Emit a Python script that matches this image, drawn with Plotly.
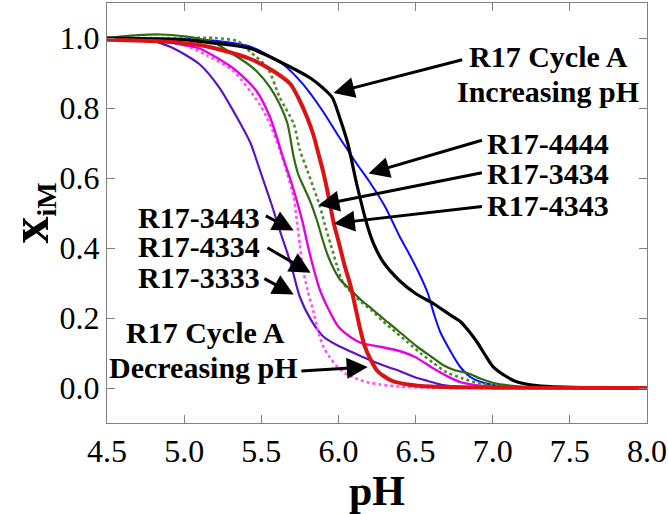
import plotly.graph_objects as go

# ---------------- data ----------------
black_x = [4.5, 5.0, 5.1, 5.43, 5.64, 5.82, 5.9, 5.96, 6.01, 6.06, 6.12, 6.19, 6.23, 6.29, 6.4, 6.5, 6.62, 6.72, 6.79, 6.85, 6.9, 6.95, 7.0, 7.08, 7.16, 7.3, 7.5, 8.0]
black_y = [1.0, 0.995, 0.99, 0.97, 0.928, 0.885, 0.857, 0.83, 0.77, 0.70, 0.58, 0.46, 0.41, 0.36, 0.305, 0.27, 0.24, 0.21, 0.19, 0.16, 0.13, 0.095, 0.062, 0.035, 0.017, 0.006, 0.002, 0.0]

blue_x = [4.5, 5.0, 5.2, 5.43, 5.64, 5.77, 5.9, 6.0, 6.06, 6.12, 6.2, 6.3, 6.4, 6.45, 6.52, 6.58, 6.62, 6.66, 6.72, 6.79, 6.86, 6.94, 7.05, 7.2, 8.0]
blue_y = [1.0, 0.998, 0.992, 0.975, 0.925, 0.868, 0.79, 0.72, 0.68, 0.64, 0.59, 0.52, 0.43, 0.39, 0.33, 0.27, 0.21, 0.16, 0.11, 0.06, 0.03, 0.015, 0.005, 0.001, 0.0]

red_x = [4.5, 4.86, 5.1, 5.23, 5.43, 5.58, 5.69, 5.75, 5.8, 5.84, 5.87, 5.9, 5.93, 5.97, 6.0, 6.04, 6.08, 6.11, 6.14, 6.17, 6.21, 6.25, 6.29, 6.35, 6.45, 6.6, 7.0, 8.0]
red_y = [0.995, 0.99, 0.98, 0.967, 0.94, 0.905, 0.868, 0.82, 0.77, 0.72, 0.67, 0.62, 0.56, 0.47, 0.42, 0.35, 0.29, 0.23, 0.17, 0.12, 0.08, 0.05, 0.035, 0.02, 0.01, 0.004, 0.001, 0.0]

green_x = [4.5, 4.7, 4.85, 5.0, 5.1, 5.2, 5.32, 5.4, 5.47, 5.56, 5.62, 5.67, 5.71, 5.74, 5.78, 5.82, 5.86, 5.9, 5.93, 5.97, 6.01, 6.08, 6.15, 6.22, 6.3, 6.37, 6.45, 6.52, 6.6, 6.68, 6.76, 6.84, 6.92, 7.0, 7.16, 7.4, 8.0]
green_y = [1.0, 1.008, 1.01, 1.005, 0.998, 0.985, 0.953, 0.93, 0.905, 0.857, 0.81, 0.755, 0.66, 0.61, 0.57, 0.53, 0.48, 0.42, 0.38, 0.34, 0.31, 0.28, 0.25, 0.225, 0.195, 0.17, 0.14, 0.115, 0.09, 0.065, 0.05, 0.042, 0.027, 0.015, 0.005, 0.001, 0.0]

gdot_x = [4.5, 5.0, 5.2, 5.35, 5.43, 5.54, 5.62, 5.71, 5.75, 5.8, 5.84, 5.88, 5.91, 5.95, 5.99, 6.03, 6.09, 6.15, 6.22, 6.29, 6.37, 6.45, 6.53, 6.62, 6.7, 6.8, 6.9, 7.0, 7.2, 8.0]
gdot_y = [1.0, 1.0, 1.0, 0.99, 0.96, 0.915, 0.83, 0.755, 0.68, 0.62, 0.57, 0.52, 0.47, 0.41, 0.35, 0.3, 0.27, 0.245, 0.22, 0.19, 0.16, 0.13, 0.1, 0.07, 0.045, 0.028, 0.015, 0.008, 0.002, 0.0]

mag_x = [4.5, 4.8, 5.0, 5.1, 5.32, 5.47, 5.56, 5.64, 5.7, 5.74, 5.77, 5.8, 5.84, 5.88, 5.93, 6.0, 6.08, 6.15, 6.27, 6.4, 6.5, 6.6, 6.7, 6.79, 6.94, 7.1, 8.0]
mag_y = [1.0, 0.995, 0.98, 0.97, 0.913, 0.848, 0.77, 0.66, 0.58, 0.52, 0.47, 0.41, 0.34, 0.28, 0.23, 0.175, 0.145, 0.128, 0.118, 0.105, 0.088, 0.06, 0.035, 0.017, 0.006, 0.002, 0.0]

mdot_x = [4.5, 4.8, 5.0, 5.15, 5.32, 5.49, 5.56, 5.62, 5.67, 5.71, 5.73, 5.75, 5.77, 5.8, 5.84, 5.87, 5.9, 5.94, 5.99, 6.05, 6.12, 6.2, 6.27, 6.4, 6.6, 8.0]
mdot_y = [1.0, 0.995, 0.98, 0.95, 0.905, 0.81, 0.75, 0.68, 0.61, 0.545, 0.48, 0.41, 0.34, 0.28, 0.215, 0.16, 0.12, 0.09, 0.062, 0.04, 0.026, 0.015, 0.01, 0.004, 0.001, 0.0]

purple_x = [4.5, 4.76, 4.91, 5.1, 5.23, 5.34, 5.43, 5.47, 5.52, 5.57, 5.62, 5.69, 5.75, 5.82, 5.9, 5.98, 6.06, 6.15, 6.23, 6.32, 6.4, 6.5, 6.58, 6.68, 6.8, 7.0, 8.0]
purple_y = [1.0, 0.995, 0.975, 0.925, 0.857, 0.775, 0.70, 0.65, 0.585, 0.52, 0.45, 0.357, 0.26, 0.196, 0.148, 0.125, 0.108, 0.09, 0.075, 0.06, 0.048, 0.03, 0.02, 0.008, 0.003, 0.001, 0.0]

x_ticks = [4.5, 5.0, 5.5, 6.0, 6.5, 7.0, 7.5, 8.0]
y_ticks = [0.0, 0.2, 0.4, 0.6, 0.8, 1.0]

# labels: (text, x, y, xanchor)
labels = [
    ("R17 Cycle A", 7.36, 0.948, "center"),
    ("Increasing pH", 7.36, 0.848, "center"),
    ("R17-4444", 7.36, 0.700, "center"),
    ("R17-3434", 7.36, 0.613, "center"),
    ("R17-4343", 7.36, 0.522, "center"),
    ("R17-3443", 5.506, 0.488, "right"),
    ("R17-4334", 5.506, 0.403, "right"),
    ("R17-3333", 5.506, 0.315, "right"),
    ("R17 Cycle A", 5.136, 0.159, "center"),
    ("Decreasing pH", 5.123, 0.060, "center"),
]
# arrows: (tail_x, tail_y, tip_x, tip_y)
arrows = [
    (6.812, 0.939, 5.968, 0.843),
    (6.94, 0.709, 6.195, 0.613),
    (6.94, 0.616, 5.87, 0.522),
    (6.94, 0.519, 5.97, 0.47),
    (5.52, 0.494, 5.71, 0.45),
    (5.53, 0.403, 5.82, 0.329),
    (5.51, 0.315, 5.71, 0.267),
    (5.75, 0.048, 6.19, 0.06),
]

FONT = "Liberation Serif, Times New Roman, DejaVu Serif, serif"

fig = go.Figure()
series = [
    (purple_x, purple_y, "#5b14c4", 2.2, "solid"),
    (mdot_x, mdot_y, "#ff4dff", 2.6, "dot"),
    (mag_x, mag_y, "#e600e6", 2.4, "solid"),
    (blue_x, blue_y, "#0a0aff", 2.0, "solid"),
    (gdot_x, gdot_y, "#4f8a2e", 2.6, "dot"),
    (green_x, green_y, "#2e6a10", 2.2, "solid"),
    (black_x, black_y, "#000000", 3.2, "solid"),
    (red_x, red_y, "#d81414", 4.0, "solid"),
]
for xs, ys, col, w, dash in series:
    fig.add_trace(go.Scatter(x=xs, y=ys, mode="lines",
                             line=dict(color=col, width=w, dash=dash, shape="spline", smoothing=0.7),
                             showlegend=False, hoverinfo="skip"))

for text, x, y, xa in labels:
    fig.add_annotation(x=x, y=y, xref="x", yref="y", text="<b>%s</b>" % text, showarrow=False,
                       xanchor=xa, yanchor="middle", align="center",
                       font=dict(family=FONT, size=30, color="black"))
for tx, ty, hx, hy in arrows:
    fig.add_annotation(x=hx, y=hy, ax=tx, ay=ty, xref="x", yref="y", axref="x", ayref="y",
                       text="", showarrow=True, arrowhead=2, arrowsize=1.4, arrowwidth=3,
                       arrowcolor="black", standoff=0, startstandoff=0)

axis_common = dict(showline=True, linecolor="#808080", linewidth=1, mirror="ticks",
                   ticks="inside", ticklen=8, tickcolor="#808080", showgrid=False,
                   zeroline=False, automargin=False,
                   tickfont=dict(family=FONT, size=32, color="black"))

fig.update_xaxes(range=[4.5, 8.0], tickvals=x_ticks, ticktext=["%.1f" % v for v in x_ticks],
                 title=dict(text="<b>pH</b>", font=dict(family=FONT, size=42, color="black"), standoff=6),
                 **axis_common)
fig.update_yaxes(range=[-0.1, 1.1], tickvals=y_ticks, ticktext=["%.1f" % v for v in y_ticks],
                 title=dict(text="<b><span style='font-size:54px'>x</span><sub>iM</sub></b>",
                            font=dict(family=FONT, size=40, color="black"), standoff=40),
                 **axis_common)

fig.update_layout(width=668, height=514, margin=dict(l=107, r=21, t=3, b=91),
                  paper_bgcolor="white", plot_bgcolor="white", font=dict(family=FONT))

fig.write_html("out.html", config={"displayModeBar": False},
               post_script="document.body.style.margin='0';document.body.style.overflow='hidden';")
